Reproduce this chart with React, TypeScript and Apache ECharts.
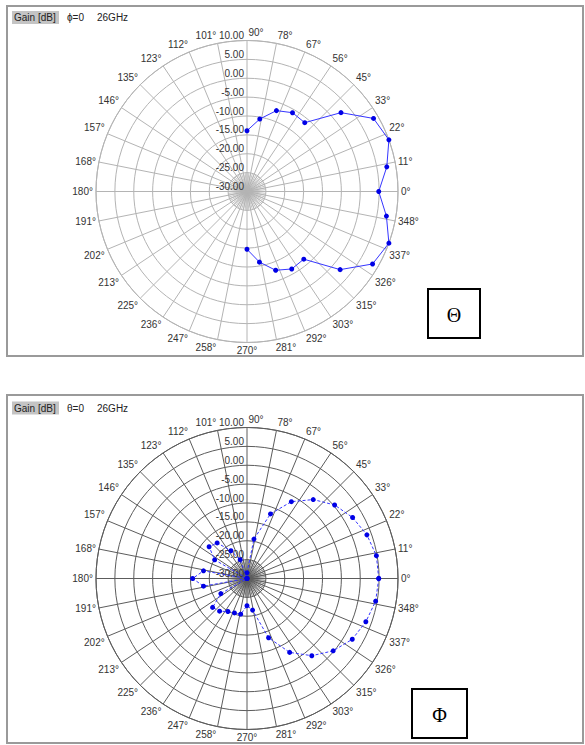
import React, { useEffect, useRef } from 'react';
import * as echarts from 'echarts';

// Radial scale (dB) tick labels
const radiusTicks = [-30, -25, -20, -15, -10, -5, 0, 5, 10];

// Θ cut (ϕ = 0), angle in degrees
const thetaCutAngles = [90, 80, 70, 60, 50, 40, 30, 20, 10, 0, -10, -20, -30, -40, -50, -60, -70, -80, -90];
const thetaCutGain = [-13.9, -10.5, -7.2, -5.9, -6.2, 2.5, 8.7, 10.0, 7.6, 4.9, 7.5, 10.0, 8.4, 2.2, -6.6, -6.3, -7.8, -11.0, -14.7];

// Φ cut (θ = 0), angle in degrees
const phiCutAngles = [0, 10, 20, 30, 40, 50, 60, 70, 80, 90, 100, 110, 120, 130, 140, 150, 160, 170, 180, 190, 200, 210, 220, 230, 240, 250, 260, 270, 280, 290, 300, 310, 320, 330, 340, 350, 360];
const phiCutGain = [4.9, 4.8, 3.8, 2.3, 0.3, -2.7, -6.5, -11.8, -19.4, -28.5, -30, -24.7, -21.5, -17.7, -16.9, -20.1, -30, -18.3, -15.6, -18.3, -30, -22.0, -18.1, -18.7, -19.9, -20.3, -20.4, -22.8, -21.5, -13.3, -7.4, -3.3, -0.2, 2.2, 3.5, 4.6, 4.9];

const FONT = 'Liberation Sans, Arial, sans-serif';

const toAxisAngle = (deg: number) => (((deg - 90) % 360) + 360) % 360;

// label nudges for the near-vertical angle labels (rich padding)
const labelPads: Record<number, number[]> = {
  90: [0, 0, 0, 18],
  78: [0, 0, 0, 16],
  101: [0, 22, 0, 0],
  258: [0, 22, 0, 0],
  281: [0, 0, 0, 18],
};

export default function App() {
  const ref = useRef<HTMLDivElement>(null);
  useEffect(() => {
    if (!ref.current) return;
    const chart = echarts.init(ref.current, null, { renderer: 'svg' });
    const R = 151;
    const ringR = R / (radiusTicks.length - 1);
    const centers: [number, number][] = [[247, 191.5], [247, 578.5]];
    const gridColors = ['#b4b4b4', '#5c5c5c'];

    const rich: Record<string, any> = {};
    Object.keys(labelPads).forEach((k) => {
      rich['p' + k] = { padding: labelPads[Number(k)], fontSize: 10, color: '#333', fontFamily: FONT };
    });

    const polar: any[] = [];
    const angleAxis: any[] = [];
    const radiusAxis: any[] = [];
    centers.forEach((c, k) => {
      polar.push({ center: c, radius: R });
      polar.push({ center: c, radius: ringR });
      const main = k * 2;
      const inner = k * 2 + 1;
      angleAxis.push({
        polarIndex: main,
        type: 'value',
        min: 0,
        max: 360,
        interval: 11.25,
        startAngle: 90,
        clockwise: false,
        axisLine: { show: true, lineStyle: { color: gridColors[k], width: 1 } },
        axisTick: { show: false },
        splitLine: { show: true, lineStyle: { color: gridColors[k], width: 1 } },
        axisLabel: {
          show: true,
          margin: 3,
          color: '#333',
          fontSize: 10,
          fontFamily: FONT,
          formatter: (v: number) => {
            const d = Math.floor(((v + 90) % 360) + 1e-9);
            if (labelPads[d]) return '{p' + d + '|' + d + '°}';
            return d + '°';
          },
          rich,
        },
      });
      radiusAxis.push({
        polarIndex: main,
        type: 'value',
        min: radiusTicks[0],
        max: radiusTicks[radiusTicks.length - 1],
        interval: 5,
        axisLine: { show: false },
        axisTick: { show: false },
        splitLine: { show: true, lineStyle: { color: gridColors[k], width: 1 } },
        axisLabel: {
          show: true,
          margin: 3,
          align: 'right',
          verticalAlign: 'bottom',
          color: '#333',
          fontSize: 10,
          fontFamily: FONT,
          formatter: (v: number) => v.toFixed(2),
        },
      });
      angleAxis.push({
        polarIndex: inner,
        type: 'value',
        min: 0,
        max: 360,
        interval: 5.625,
        startAngle: 90,
        clockwise: false,
        axisLine: { show: false },
        axisTick: { show: false },
        axisLabel: { show: false },
        splitLine: { show: true, lineStyle: { color: gridColors[k], width: 0.8 } },
      });
      radiusAxis.push({
        polarIndex: inner,
        type: 'value',
        min: 0,
        max: 1,
        axisLine: { show: false },
        axisTick: { show: false },
        axisLabel: { show: false },
        splitLine: { show: false },
      });
    });

    const thetaData = thetaCutAngles.map((a, i) => [thetaCutGain[i], toAxisAngle(a)]);
    const phiData = phiCutAngles.map((a, i) => [phiCutGain[i], toAxisAngle(a)]);

    const frame = (y: number, h: number) => ({
      type: 'rect',
      shape: { x: 7, y, width: 576, height: h },
      style: { fill: 'none', stroke: '#9a9a9a', lineWidth: 2 },
      z: 10,
    });

    const header = (y: number, label: string) => [
      { type: 'rect', shape: { x: 12, y: y - 6.5, width: 47, height: 13 }, style: { fill: '#c4c4c4' }, z: 10 },
      { type: 'text', x: 14, y, style: { text: 'Gain [dB]', fontSize: 10, fontFamily: FONT, fill: '#222', verticalAlign: 'middle' }, z: 11 },
      { type: 'text', x: 67, y, style: { text: label, fontSize: 10, fontFamily: FONT, fill: '#222', verticalAlign: 'middle' }, z: 11 },
      { type: 'text', x: 97, y, style: { text: '26GHz', fontSize: 10, fontFamily: FONT, fill: '#222', verticalAlign: 'middle' }, z: 11 },
    ];

    const box = (x: number, y: number, w: number, h: number, sym: string) => [
      { type: 'rect', shape: { x, y, width: w, height: h }, style: { fill: '#fff', stroke: '#000', lineWidth: 2 }, z: 10 },
      {
        type: 'text', x: x + w / 2, y: y + h / 2 + 1,
        style: { text: sym, fontSize: 20, fontFamily: 'Liberation Serif, Times New Roman, serif', fill: '#000', align: 'center', verticalAlign: 'middle' },
        z: 11,
      },
    ];

    chart.setOption({
      animation: false,
      backgroundColor: '#fff',
      polar,
      angleAxis,
      radiusAxis,
      series: [
        {
          type: 'line',
          coordinateSystem: 'polar',
          polarIndex: 0,
          data: thetaData,
          symbol: 'circle',
          symbolSize: 5,
          showSymbol: true,
          lineStyle: { color: '#3535ff', width: 1 },
          itemStyle: { color: '#0000e6' },
          z: 5,
        },
        {
          type: 'line',
          coordinateSystem: 'polar',
          polarIndex: 2,
          data: phiData,
          symbol: 'circle',
          symbolSize: 5,
          showSymbol: true,
          lineStyle: { color: '#3535ff', width: 1, type: [3, 2] },
          itemStyle: { color: '#0000e6' },
          z: 5,
        },
      ],
      graphic: [
        frame(6, 350),
        frame(395, 348),
        ...header(17.5, 'ϕ=0'),
        ...header(408, 'θ=0'),
        ...box(428, 289, 52, 49, 'Θ'),
        ...box(412, 689, 55, 49, 'Φ'),
      ],
    });
    return () => chart.dispose();
  }, []);
  return <div ref={ref} style={{ position: 'absolute', left: 0, top: 0, width: 585, height: 745 }} />;
}
